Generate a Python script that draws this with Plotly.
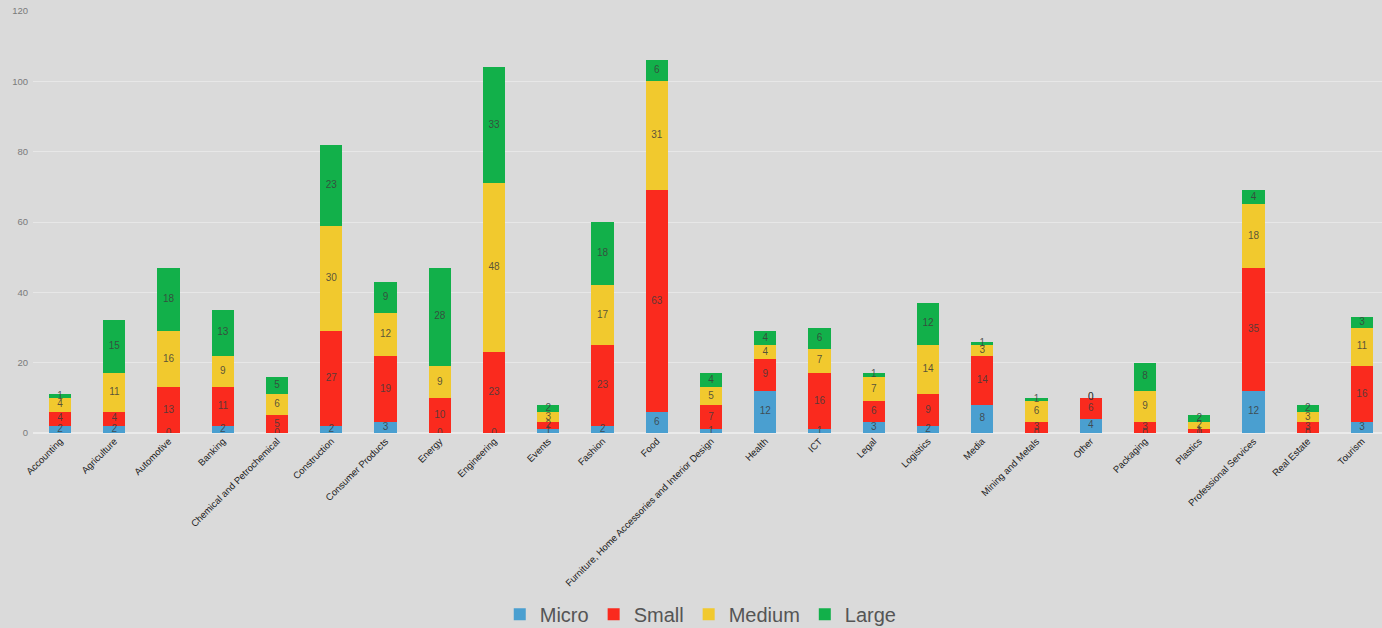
import numpy as np
import plotly.graph_objects as go

sectors = [
    "Accounting", "Agriculture", "Automotive", "Banking", "Chemical and Petrochemical",
    "Construction", "Consumer Products", "Energy", "Engineering", "Events", "Fashion",
    "Food", "Furniture, Home Accessories and Interior Design", "Health", "ICT", "Legal",
    "Logistics", "Media", "Mining and Metals", "Other", "Packaging", "Plastics",
    "Professional Services", "Real Estate", "Tourism",
]
micro = [2, 2, 0, 2, 0, 2, 3, 0, 0, 1, 2, 6, 1, 12, 1, 3, 2, 8, 0, 4, 0, 0, 12, 0, 3]
small = [4, 4, 13, 11, 5, 27, 19, 10, 23, 2, 23, 63, 7, 9, 16, 6, 9, 14, 3, 6, 3, 1, 35, 3, 16]
medium = [4, 11, 16, 9, 6, 30, 12, 9, 48, 3, 17, 31, 5, 4, 7, 7, 14, 3, 6, 0, 9, 2, 18, 3, 11]
large = [1, 15, 18, 13, 5, 23, 9, 28, 33, 2, 18, 6, 4, 4, 6, 1, 12, 1, 1, 0, 8, 2, 4, 2, 3]

series = [
    ("Micro", micro, "#4a9fd0"),
    ("Small", small, "#fa2a1e"),
    ("Medium", medium, "#f1c92e"),
    ("Large", large, "#12b04a"),
]

FONT = "Liberation Sans, Arial, sans-serif"
BG = "#dadada"
fig = go.Figure()

idx = list(range(len(sectors)))
base = np.zeros(len(sectors))
label_x, label_y, label_t = [], [], []
for name, vals, color in series:
    v = np.array(vals, dtype=float)
    fig.add_trace(go.Bar(
        x=idx, y=v, name=name, marker=dict(color=color, line=dict(width=0)),
        hoverinfo="skip",
    ))
    label_x += idx
    label_y += list(base + v / 2)
    label_t += [str(int(a)) for a in v]
    base = base + v

# segment value labels, centred in each stacked segment
fig.add_trace(go.Scatter(
    x=label_x, y=label_y, text=label_t, mode="text",
    textfont=dict(family=FONT, size=10, color="rgba(60,60,60,0.85)"),
    showlegend=False, hoverinfo="skip",
))

fig.update_layout(
    barmode="stack",
    bargap=0.59,
    width=1382, height=628,
    margin=dict(l=33, r=0, t=11, b=195),
    paper_bgcolor=BG,
    plot_bgcolor=BG,
    font=dict(family=FONT),
    legend=dict(
        orientation="h", x=0.495, xanchor="center",
        yref="container", y=0.022, yanchor="middle",
        font=dict(size=20, color="#555555"), traceorder="normal",
        itemwidth=30,
    ),
    xaxis=dict(
        tickmode="array", tickvals=idx, ticktext=sectors, tickangle=-45,
        range=[-0.5, 24.37], showgrid=False, zeroline=False,
        tickfont=dict(size=9.5, color="#222222"), showline=False,
    ),
    yaxis=dict(
        range=[0, 120], dtick=20, showgrid=True,
        gridcolor="rgba(255,255,255,0.35)", gridwidth=1, zeroline=True,
        zerolinecolor="rgba(255,255,255,0.45)",
        tickfont=dict(size=9.5, color="#7a7a7a"), ticklabelstandoff=4,
    ),
)

fig.write_html("out.html")
